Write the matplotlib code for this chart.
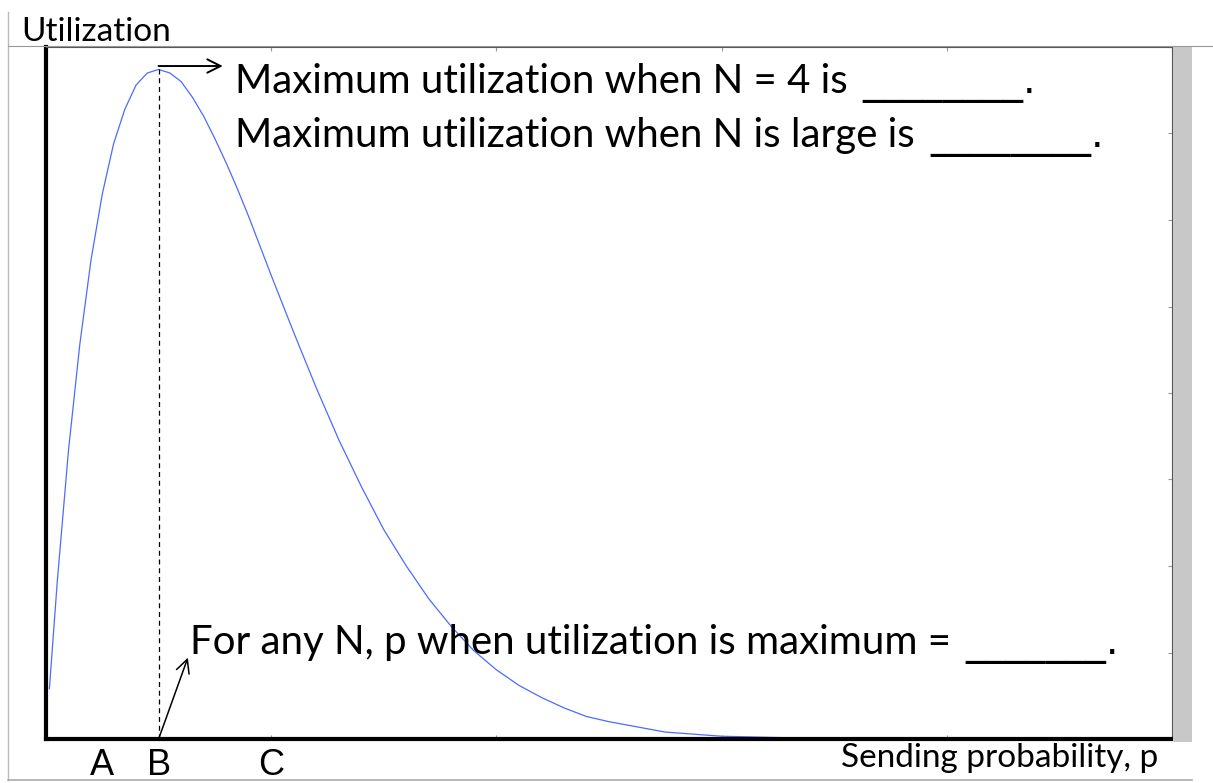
import matplotlib.pyplot as plt
from matplotlib.patches import Rectangle
from matplotlib.lines import Line2D
import numpy as np

# values (sending probability p, utilization)
p = [0.003, 0.01, 0.02, 0.03, 0.04, 0.05, 0.06, 0.07, 0.08, 0.09,
     0.10, 0.11, 0.12, 0.13, 0.14, 0.15, 0.16, 0.17, 0.18, 0.19,
     0.20, 0.22, 0.24, 0.26, 0.28, 0.30, 0.32, 0.34, 0.36, 0.38,
     0.40, 0.42, 0.44, 0.46, 0.48, 0.50, 0.55, 0.60, 0.70, 0.80, 1.0]
util = [0.029, 0.091, 0.167, 0.228, 0.277, 0.315, 0.344, 0.364, 0.378, 0.385,
        0.387, 0.385, 0.380, 0.371, 0.360, 0.347, 0.333, 0.318, 0.302, 0.285,
        0.268, 0.235, 0.203, 0.173, 0.146, 0.121, 0.100, 0.081, 0.065, 0.051,
        0.040, 0.031, 0.024, 0.018, 0.013, 0.010, 0.004, 0.0016, 0.0001, 0.0, 0.0]
letters = ['A', 'B', 'C']
letter_pos = [0.05, 0.1, 0.2]

W, H = 1213, 783
fig = plt.figure(figsize=(W / 100, H / 100), dpi=100)
fig.patch.set_facecolor('white')


def fx(x):
    return x / W


def fy(y):
    return 1 - y / H


body = ['Lato', 'DejaVu Sans']
blank = ['DejaVu Sans']

# screenshot frame
fig.add_artist(Line2D([fx(8), fx(8)], [fy(12), fy(780)], color='#bbbbbb', lw=1))
fig.add_artist(Line2D([fx(8), fx(1192)], [fy(780), fy(780)], color='#aaaaaa', lw=1.2))
fig.add_artist(Line2D([fx(8), fx(1213)], [fy(46), fy(46)], color='#999999', lw=0.8))
fig.add_artist(Rectangle((fx(1173), fy(742)), fx(1192) - fx(1173), fy(47) - fy(742),
                         facecolor='#c8c8c8', edgecolor='none'))

ax = fig.add_axes([fx(46), fy(739), fx(1172) - fx(46), fy(47) - fy(739)])
ax.set_xlim(0, 1)
ax.set_ylim(0, 0.4)
ax.plot(p, util, color='#4d6bfe', lw=0.9)

# dashed line at the peak
k = int(np.argmax(util))
ax.plot([p[k], p[k]], [0, util[k]], color='black', lw=0.9, ls=(0, (4, 3)))

ax.set_xticks(np.arange(0, 1.01, 0.2))
ax.set_yticks(np.arange(0, 0.401, 0.05))
ax.tick_params(direction='in', length=3, width=0.8, colors='#999999',
               left=False, right=True, top=True, bottom=True,
               labelleft=False, labelbottom=False)
for s in ['left', 'bottom']:
    ax.spines[s].set_linewidth(3)
    ax.spines[s].set_color('black')
for s in ['top', 'right']:
    ax.spines[s].set_linewidth(0.8)
    ax.spines[s].set_color('#555555')

# arrows
ax.annotate('', xy=(0.157, util[k] + 0.002), xytext=(p[k], util[k] + 0.002),
            arrowprops=dict(arrowstyle='->', color='black', lw=1.4,
                            mutation_scale=24, shrinkA=0, shrinkB=0))
ax.annotate('', xy=(0.126, 0.047), xytext=(p[k], 0),
            arrowprops=dict(arrowstyle='->', color='black', lw=1.1,
                            mutation_scale=24, shrinkA=0, shrinkB=0))

# letters under the axis
for lab, x in zip(letters, letter_pos):
    fig.text(fx(46 + x * 1126), fy(775), lab, ha='center', va='baseline',
             fontsize=26, family=['Liberation Sans', 'DejaVu Sans'])

fig.text(fx(21), fy(41), 'Utilization', ha='left', va='baseline', fontsize=24, family=body)
fig.text(fx(1158), fy(767), 'Sending probability, p', ha='right', va='baseline',
         fontsize=24, family=body)

fig.text(fx(235), fy(93), 'Maximum utilization when N = 4 is',
         ha='left', va='baseline', fontsize=29, family=body)
fig.text(fx(862), fy(93), '________.', ha='left', va='baseline', fontsize=29, family=blank)
fig.text(fx(235), fy(147), 'Maximum utilization when N is large is',
         ha='left', va='baseline', fontsize=29, family=body)
fig.text(fx(930), fy(147), '________.', ha='left', va='baseline', fontsize=29, family=blank)
fig.text(fx(190), fy(654), 'For any N, p when utilization is maximum =',
         ha='left', va='baseline', fontsize=29, family=body)
fig.text(fx(965), fy(654), '_______.', ha='left', va='baseline', fontsize=29, family=blank)

plt.savefig('out.png', dpi=100)
